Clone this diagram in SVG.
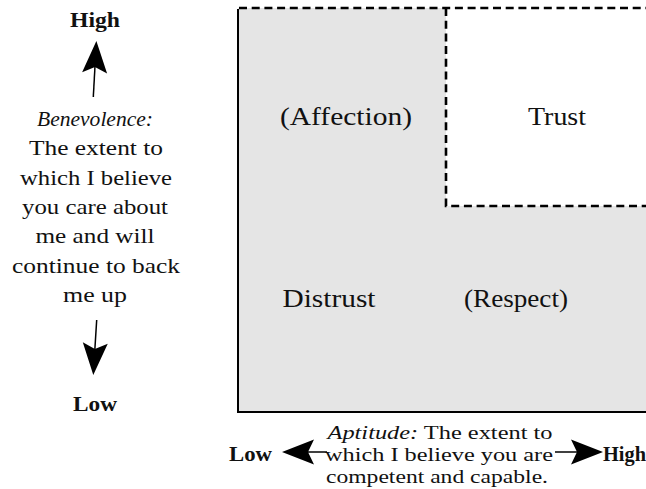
<svg xmlns="http://www.w3.org/2000/svg" width="646" height="489" viewBox="0 0 646 489">
<style>
text{font-family:'Liberation Serif','Times New Roman',Times,serif;fill:#111;}
.lab{font-size:22px;text-anchor:middle;}
.ax{font-size:21px;font-weight:bold;}
.q{font-size:25px;text-anchor:middle;}
.bt{font-size:19.8px;text-anchor:middle;}
.it{font-style:italic;}
.dash{fill:none;stroke:#000;stroke-width:2.6;stroke-dasharray:8 4.7;}
.solid{fill:none;stroke:#000;stroke-width:2;}
.arr{fill:none;stroke:#000;stroke-width:1.5;marker-end:url(#ah);}
</style>
<defs>
<marker id="ah" markerUnits="userSpaceOnUse" markerWidth="40" markerHeight="30" refX="0" refY="0" orient="auto" overflow="visible">
<path d="M26,0 L-6,-12.5 L0,0 L-6,12.5 Z" fill="#000"/>
</marker>
</defs>
<rect width="646" height="489" fill="#fff"/>
<g id="grid">
<rect x="238" y="8" width="408" height="404" fill="#e5e5e5"/>
<rect x="446" y="8" width="200" height="198" fill="#fff"/>
<line class="solid" x1="238" y1="9" x2="238" y2="413"/>
<line class="solid" x1="237" y1="412" x2="646" y2="412"/>
<line class="dash" x1="239" y1="8" x2="646" y2="8"/>
<path class="dash" d="M446,8 V206 H646"/>
</g>
<g id="q-affection"><text class="q" x="346" y="125" textLength="132" lengthAdjust="spacingAndGlyphs">(Affection)</text></g>
<g id="q-trust"><text class="q" x="557" y="125" textLength="58" lengthAdjust="spacingAndGlyphs">Trust</text></g>
<g id="q-distrust"><text class="q" x="329" y="307" textLength="93" lengthAdjust="spacingAndGlyphs">Distrust</text></g>
<g id="q-respect"><text class="q" x="516" y="307" textLength="104" lengthAdjust="spacingAndGlyphs">(Respect)</text></g>
<g id="y-high"><text class="ax" x="95" y="27" text-anchor="middle" textLength="50" lengthAdjust="spacingAndGlyphs">High</text></g>
<g id="y-low"><text class="ax" x="95" y="411" text-anchor="middle" textLength="44" lengthAdjust="spacingAndGlyphs">Low</text></g>
<g id="y-label">
<text class="lab it" x="95" y="126" textLength="116" lengthAdjust="spacingAndGlyphs">Benevolence:</text>
<text class="lab" x="96" y="155" textLength="134" lengthAdjust="spacingAndGlyphs">The extent to</text>
<text class="lab" x="96" y="184.5" textLength="152" lengthAdjust="spacingAndGlyphs">which I believe</text>
<text class="lab" x="95" y="214" textLength="146" lengthAdjust="spacingAndGlyphs">you care about</text>
<text class="lab" x="95" y="243" textLength="119" lengthAdjust="spacingAndGlyphs">me and will</text>
<text class="lab" x="96" y="272.5" textLength="168" lengthAdjust="spacingAndGlyphs">continue to back</text>
<text class="lab" x="95" y="302" textLength="64" lengthAdjust="spacingAndGlyphs">me up</text>
</g>
<g id="x-low"><text class="ax" x="229" y="460.5" textLength="43" lengthAdjust="spacingAndGlyphs">Low</text></g>
<g id="x-high"><text class="ax" x="603" y="460.5" textLength="43" lengthAdjust="spacingAndGlyphs">High</text></g>
<g id="x-label">
<text class="bt" x="440" y="438.5" textLength="225" lengthAdjust="spacingAndGlyphs"><tspan class="it">Aptitude:</tspan> The extent to</text>
<text class="bt" x="439" y="460.5" textLength="228" lengthAdjust="spacingAndGlyphs">which I believe you are</text>
<text class="bt" x="437" y="482.5" textLength="222" lengthAdjust="spacingAndGlyphs">competent and capable.</text>
</g>
<g id="connectors">
<line class="arr" x1="93.3" y1="97" x2="94.95" y2="66.94"/>
<line class="arr" x1="96.7" y1="320" x2="94.9" y2="349.05"/>
<line class="arr" x1="327" y1="452" x2="308" y2="452"/>
<line class="arr" x1="555" y1="452" x2="577" y2="452"/>
</g>
</svg>
